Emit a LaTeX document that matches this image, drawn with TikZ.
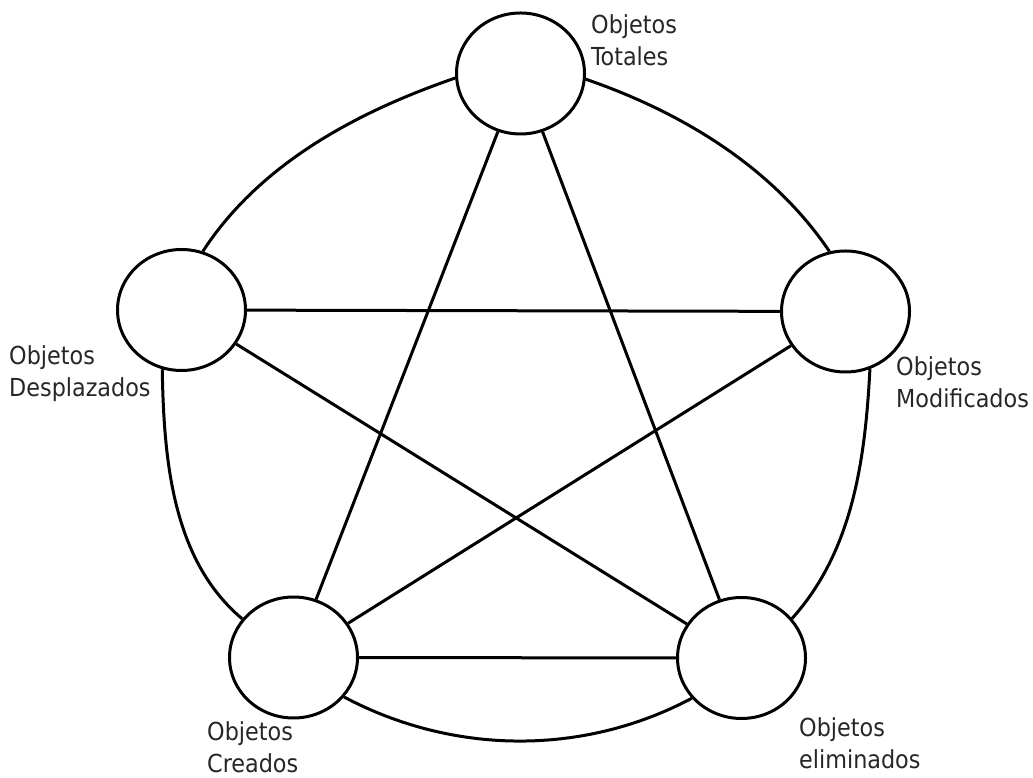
\documentclass[tikz,border=0pt]{standalone}
\usepackage{fontspec}
\setmainfont{DejaVu Sans Condensed}
\usetikzlibrary{shapes.geometric}
\begin{document}
\begin{tikzpicture}[x=1pt,y=1pt,
  obj/.style={ellipse, draw, line width=3pt, minimum width=128pt, minimum height=121pt, inner sep=0pt},
  link/.style={line width=3pt},
  lbl/.style={anchor=base west, align=left, inner sep=0pt, font=\fontsize{24.8}{32}\selectfont, text=black!85}]
\useasboundingbox (0,0) rectangle (1033,778);
\node[obj] (T) at (520.5,704.5) {};
\node[obj] (L) at (181.5,468) {};
\node[obj] (R) at (845.5,466.5) {};
\node[obj] (BL) at (293.5,120.5) {};
\node[obj] (BR) at (741.5,120) {};
% outer curved connectors
\draw[link] (T.-5.6) to[out=-19,in=124,looseness=0.87] (R.105);
\draw[link] (T.184) to[out=199,in=57,looseness=0.87] (L.70.5);
\draw[link] (L.252) to[out=-89,in=140,looseness=0.89] (BL.143);
\draw[link] (R.-67.3) to[out=-93,in=48,looseness=0.89] (BR.38.5);
\draw[link] (BL.-38.8) to[out=-28,in=-152,looseness=0.906] (BR.219.2);
% straight connectors
\draw[link] (T) -- (BL);
\draw[link] (T) -- (BR);
\draw[link] (L) -- (R);
\draw[link] (L) -- (BR);
\draw[link] (R) -- (BL);
\draw[link] (BL) -- (BR);
% labels (anchored at the baseline of the last line)
\node[lbl] (lT) at (591,712) {Objetos\\Totales};
\node[lbl] (lL) at (9,381) {Objetos\\Desplazados};
\node[lbl] (lR) at (896,370) {Objetos\\Modificados};
\node[lbl] (lBL) at (207,5) {Objetos\\Creados};
\node[lbl] (lBR) at (799,9) {Objetos\\eliminados};
\end{tikzpicture}
\end{document}
